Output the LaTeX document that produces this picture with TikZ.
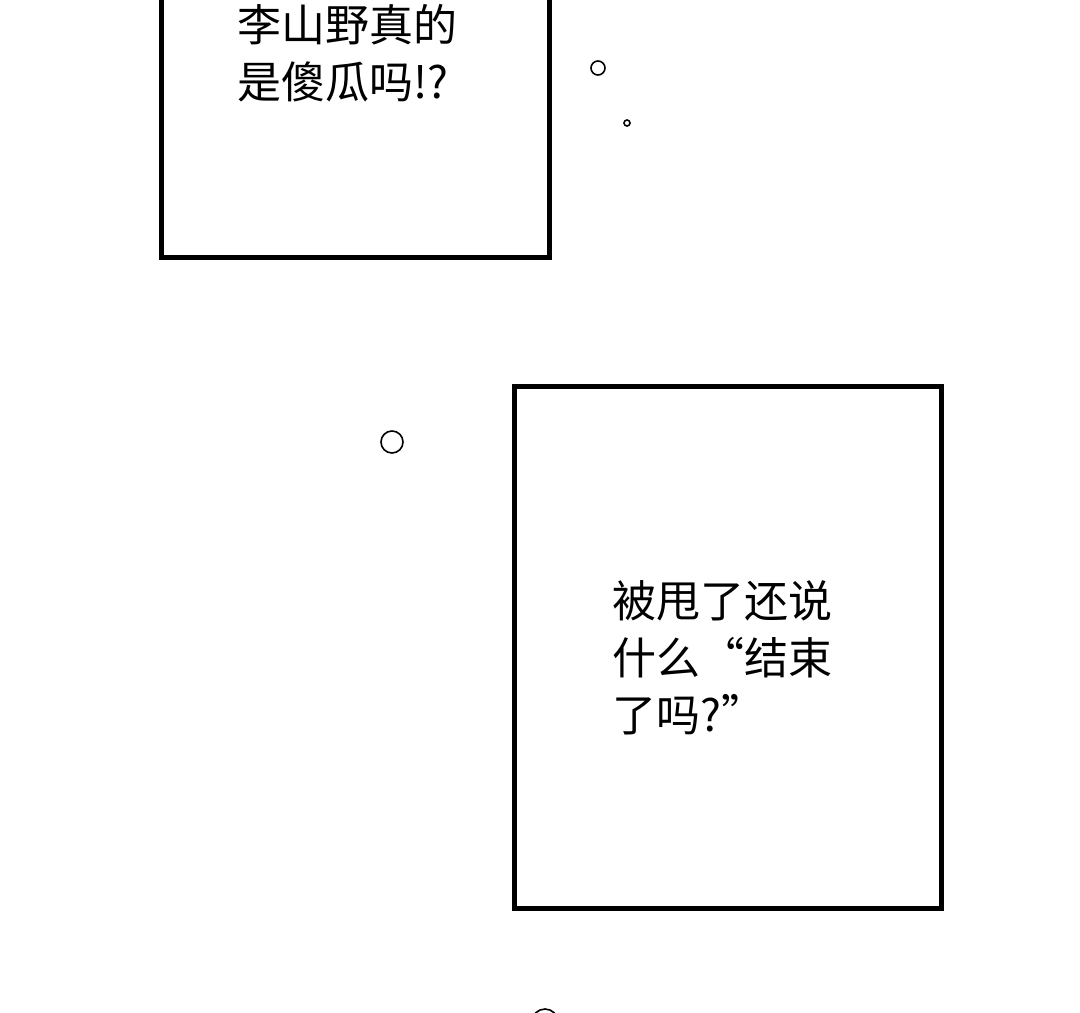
\documentclass[tikz,border=0pt]{standalone}
\usepackage{fontspec}
\newfontfamily\cjk{Noto Sans CJK SC}
\begin{document}
\begin{tikzpicture}[x=1pt, y=-1pt,
  panel/.style={draw, line width=5pt},
  bubble/.style={draw, line width=1.6pt, circle, inner sep=0pt},
  speech/.style={align=left, anchor=north west, inner sep=0pt, font=\cjk\fontsize{44}{57}\selectfont}]
\useasboundingbox (0,0) rectangle (1080,1013);
\clip (0,0) rectangle (1080,1013);
% panels
\draw[panel] (161,-10) -- (161,257) -- (549,257) -- (549,-10);
\draw[panel] (514,386) rectangle (941,908);
% texts
\node[speech] (top) at (237,4) {李山野真的\\是傻瓜吗!?};
\node[speech] (low) at (612,580) {被甩了还说\\什么“结束\\了吗?”};
% bubbles
\node[bubble, minimum size=14pt] (b1) at (598,68) {};
\node[bubble, minimum size=6pt] (b2) at (627,123) {};
\node[bubble, minimum size=22pt] (b3) at (392,442) {};
\node[bubble, minimum size=26pt] (b4) at (545,1022) {};
\end{tikzpicture}
\end{document}
